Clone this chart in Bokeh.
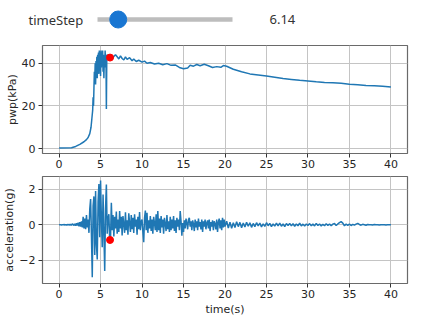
import numpy as np
from bokeh.plotting import figure
from bokeh.layouts import column
from bokeh.models import Range1d, Label, FixedTicker
from bokeh.embed import file_html
from bokeh.resources import INLINE

# ---------------- data ----------------
slider_label = "timeStep"
slider_min, slider_max = 0.0, 40.0
time_step = 6.14

x_ticks = [0, 5, 10, 15, 20, 25, 30, 35, 40]
pwp_ticks = [0, 20, 40]
acc_ticks = [-2, 0, 2]

t_pwp = [0.0, 1.5, 2.0, 2.5, 3.0, 3.3, 3.5, 3.7, 3.85, 3.95, 4.05, 4.1, 4.15, 4.2, 4.25,
         4.3, 4.35, 4.4, 4.45, 4.5, 4.55, 4.6, 4.65, 4.7, 4.75, 4.8, 4.85, 4.9, 4.95, 5.0,
         5.05, 5.1, 5.15, 5.2, 5.25, 5.3, 5.35, 5.4, 5.45, 5.5, 5.55, 5.6, 5.65, 5.7, 5.75,
         5.8, 5.9, 6.0, 6.2, 6.4, 6.6, 6.8, 7.0, 7.2, 7.4, 7.6, 7.8, 8.0, 8.2, 8.5, 8.8,
         9.0, 9.3, 9.6, 10.0, 10.3, 10.6, 11.0, 11.5, 12.0, 12.5, 13.0, 13.5, 14.0, 14.5,
         15.0, 15.5, 15.8, 16.2, 16.6, 17.0, 17.5, 18.0, 18.5, 19.0, 19.5, 19.8, 20.2, 21.0,
         22.0, 23.0, 24.0, 25.0, 26.0, 27.0, 28.0, 29.0, 30.0, 31.0, 32.0, 33.0, 34.0, 35.0,
         36.0, 37.0, 38.0, 39.0, 40.0]
pwp = [0.3, 0.4, 1.0, 2.0, 3.2, 4.2, 5.2, 7.0, 10.0, 14.0, 18.0, 24.0, 20.0, 28.0, 36.0,
       32.0, 40.0, 30.0, 41.0, 36.0, 43.0, 33.0, 44.0, 38.0, 45.0, 35.0, 46.0, 40.0, 45.0, 34.0,
       46.0, 38.0, 44.0, 41.0, 46.0, 36.0, 44.0, 33.0, 42.0, 38.0, 46.0, 40.0, 44.0, 18.6, 43.0,
       44.0, 42.0, 42.5, 42.7, 41.8, 43.2, 44.0, 43.0, 42.0, 43.4, 42.2, 41.5, 43.0, 41.8, 42.6, 41.2,
       42.0, 40.8, 41.4, 40.5, 41.0, 40.0, 40.3, 39.6, 40.0, 39.3, 39.8, 39.0, 39.2, 38.0,
       37.4, 37.8, 39.0, 38.6, 39.4, 38.8, 39.5, 38.8, 38.0, 38.4, 38.1, 38.9, 38.6, 37.2,
       36.0, 35.0, 34.5, 34.0, 33.4, 32.8, 32.4, 32.0, 31.7, 31.3, 31.0, 30.8, 30.6, 30.2,
       29.9, 29.6, 29.4, 29.2, 28.9]

# acceleration: 0.0 .. 20.0 s every 0.1 s
acc_a = [
    0.00, 0.01, 0.00, -0.01, 0.01, 0.00, 0.02, -0.01, 0.01, -0.02,
    0.02, -0.01, 0.03, -0.02, 0.04, -0.03, 0.05, 0.02, -0.04, 0.06,
    -0.05, 0.09, -0.03, 0.12, -0.08, 0.15, -0.10, 0.20, -0.15, 0.45,
    -0.20, 0.35, -0.25, 0.55, -0.15, 0.30, -0.45, 0.90, 1.45, -0.60,
    -2.95, 1.05, 1.60, -1.70, 1.90, -1.10, -1.95, 1.30, 2.30, -0.70,
    2.50, 0.30, -1.26, 1.70, -0.40, -2.60, 0.90, 2.27, -0.50, 0.35,
    0.60, -0.90, -0.78, 1.24, -0.30, 0.55, -0.65, 0.45, -0.20, 0.75,
    -0.50, 0.30, -0.40, 0.78, -0.20, 0.45, -0.60, 0.50, 0.05, -0.45,
    0.70, -0.30, 0.25, -0.55, 0.65, 0.10, -0.40, 0.55, -0.25, 0.40,
    -0.45, 0.60, -0.10, 0.30, -0.55, 0.45, -0.25, 0.72, -0.30, 0.20,
    0.30, -0.40, -0.98, 0.40, 0.80, -0.30, 0.68, -0.45, 0.25, -0.20,
    0.50, -0.35, 0.30, -0.50, 0.45, 0.10, -0.30, 0.60, -0.40, 0.78,
    -0.30, 0.35, -0.45, 0.50, -0.15, 0.30, -0.50, 0.40, 0.05, -0.35,
    0.55, -0.25, 0.20, -0.40, 0.45, -0.30, 0.30, -0.20, 0.50, -0.35,
    0.25, -0.45, 0.40, -0.10, 0.30, -0.30, 0.78, 0.20, -0.61, 0.10,
    -0.40, 0.25, -0.20, 0.35, 0.10, -0.25, 0.30, 0.40, -0.10, 0.20,
    -0.30, 0.25, 0.05, -0.35, 0.30, -0.15, 0.20, -0.30, 0.35, -0.10,
    0.15, -0.25, 0.30, -0.40, 0.20, -0.10, 0.30, -0.25, 0.10, 0.25,
    -0.20, 0.30, -0.35, 0.15, -0.10, 0.25, -0.30, 0.20, 0.05, -0.25,
    0.30, -0.40, 0.15, 0.35, -0.20, 0.25, -0.30, 0.40, -0.15, 0.30,
    -0.10]
# acceleration: 20.2 .. 40.0 s every 0.2 s
acc_b = [
    0.20, -0.18, 0.15, -0.20, 0.12, -0.15, 0.18, -0.10, 0.14, -0.16,
    0.10, -0.12, 0.15, -0.08, 0.12, -0.14, 0.08, -0.10, 0.12, -0.06,
    0.10, -0.12, 0.06, -0.09, 0.12, -0.05, 0.08, -0.10, 0.05, -0.07,
    0.09, -0.06, 0.10, -0.08, 0.05, -0.10, 0.07, -0.04, 0.08, -0.06,
    0.06, -0.08, 0.05, -0.05, 0.09, -0.06, 0.04, -0.07, 0.05, -0.04,
    0.07, -0.05, 0.04, -0.06, 0.08, -0.04, 0.05, -0.06, 0.03, -0.05,
    0.06, -0.03, 0.05, -0.05, 0.04, 0.08, -0.04, 0.05, 0.12, 0.18,
    0.10, -0.05, 0.04, -0.03, 0.05, -0.04, 0.03, -0.02, 0.04, 0.08,
    0.02, -0.02, 0.03, 0.01, -0.02, 0.02, 0.00, 0.01, -0.01, 0.02,
    0.00, 0.01, -0.01, 0.01, 0.00, 0.01, -0.01, 0.00, 0.01, 0.00]

t_acc = np.concatenate([np.round(np.arange(len(acc_a)) * 0.1, 2),
                        np.round(20.0 + (np.arange(len(acc_b)) + 1) * 0.2, 2)])
acc = np.array(acc_a + acc_b)

pwp_now = float(np.interp(time_step, t_pwp, pwp))
acc_now = float(np.interp(time_step, t_acc, acc))

# ---------------- style ----------------
FONT = "DejaVu Sans"
LINE = "#1f77b4"
W = 425
FRAME_L, FRAME_R = 42, 18


def style(p, yticks, ylabel, xlabel=None):
    p.xaxis.ticker = FixedTicker(ticks=x_ticks)
    p.yaxis.ticker = FixedTicker(ticks=yticks)
    p.yaxis.major_label_overrides = {v: str(v).replace("-", "\u2212") for v in yticks}
    for ax in (p.xaxis[0], p.yaxis[0]):
        ax.axis_line_color = None
        ax.major_tick_line_color = "#333333"
        ax.major_tick_in = 0
        ax.major_tick_out = 4
        ax.minor_tick_line_color = None
        ax.major_label_text_font = FONT
        ax.major_label_text_font_size = "11px"
        ax.major_label_text_color = "#262626"
        ax.axis_label_text_font = FONT
        ax.axis_label_text_font_size = "11px"
        ax.axis_label_text_font_style = "normal"
        ax.axis_label_text_color = "#262626"
    p.xaxis.major_label_standoff = 2
    p.yaxis.major_label_standoff = 3
    p.yaxis.axis_label = ylabel
    p.yaxis.axis_label_standoff = 0
    if xlabel:
        p.xaxis.axis_label = xlabel
        p.xaxis.axis_label_standoff = 2
    p.grid.grid_line_color = "#c4c4c4"
    p.grid.grid_line_width = 1
    p.outline_line_color = "#6a6a6a"
    p.outline_line_width = 1.2
    p.background_fill_color = "white"
    p.border_fill_color = "white"


# slider strip
s = figure(width=W, height=38, toolbar_location=None, output_backend="svg",
           min_border=0, tools="", x_axis_type=None, y_axis_type=None)
if hasattr(s, "frame_align"):
    s.frame_align = False          # frame == whole canvas
    sl, sr = 0, 0
else:
    sl, sr = FRAME_L, FRAME_R      # frame aligned with the plots below
track_l, track_r = 97, 232         # pixel extent of the slider track
upp = (slider_max - slider_min) / (track_r - track_l)
s.x_range = Range1d(slider_min - (track_l - sl) * upp,
                    slider_min + (W - sr - track_l) * upp)
s.y_range = Range1d(0, 1)
s.grid.visible = False
s.outline_line_color = None
s.line([slider_min, slider_max], [0.5, 0.5], line_width=4.5, line_color="#bdbdbd",
       line_cap="butt")
s.scatter([time_step], [0.5], size=17, color="#1976d2")
s.add_layout(Label(x=slider_min + (28 - track_l) * upp, y=0.5, text=slider_label,
                   text_baseline="middle", text_font="Noto Sans", text_font_size="13px",
                   text_color="#333333"))
s.add_layout(Label(x=slider_min + (269 - track_l) * upp, y=0.5,
                   text=f"{time_step:.2f}", text_baseline="middle", text_font="Noto Sans",
                   text_font_size="13px", text_color="#333333"))

# pwp plot
p1 = figure(width=W, height=137, toolbar_location=None, output_backend="svg",
            x_range=Range1d(-2, 42), y_range=Range1d(-2.3, 48.3), tools="",
            min_border_left=FRAME_L, min_border_right=FRAME_R,
            min_border_top=7, min_border_bottom=22)
style(p1, pwp_ticks, "pwp(kPa)")
p1.line(t_pwp, pwp, line_color=LINE, line_width=1.5)
p1.scatter([time_step], [pwp_now], size=7, color="red")

# acceleration plot
p2 = figure(width=W, height=161, toolbar_location=None, output_backend="svg",
            x_range=Range1d(-2, 42), y_range=Range1d(-3.3, 2.72), tools="",
            min_border_left=FRAME_L, min_border_right=FRAME_R,
            min_border_top=1, min_border_bottom=53)
style(p2, acc_ticks, "acceleration(g)", "time(s)")
p2.line(t_acc, acc, line_color=LINE, line_width=1.5)
p2.scatter([time_step], [acc_now], size=7, color="red")

layout = column(s, p1, p2, spacing=0)
open("out.html", "w").write(file_html(layout, INLINE))
